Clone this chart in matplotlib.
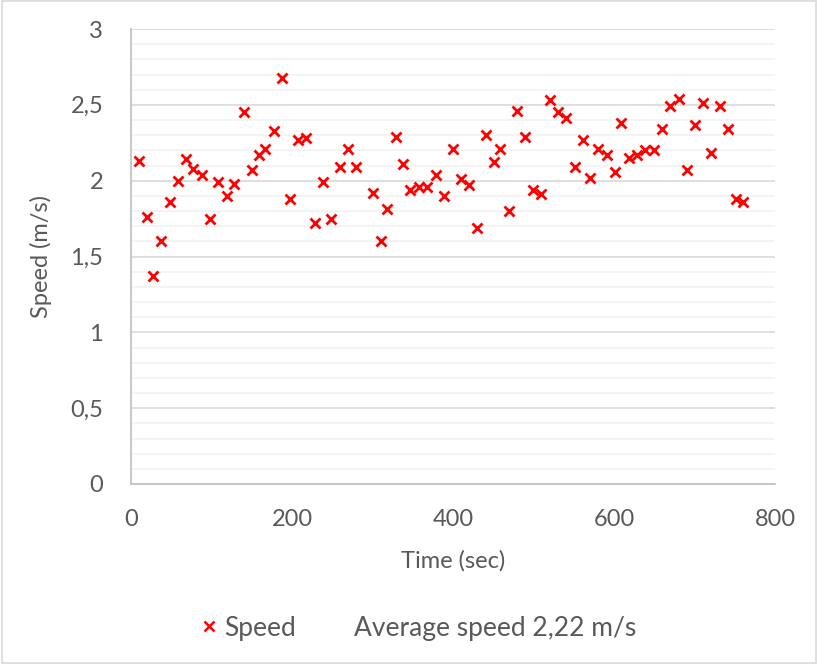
import matplotlib.pyplot as plt
from matplotlib.lines import Line2D
from matplotlib.patches import Rectangle
from matplotlib.ticker import MultipleLocator

# time stamps (sec) and measured speed (m/s)
time_s = [10, 20, 27, 37, 48, 58, 68, 77, 88, 98, 108, 119, 128, 140, 150,
          159, 167, 178, 188, 198, 207, 218, 229, 239, 249, 260, 270, 280,
          300, 310, 318, 329, 338, 347, 358, 368, 379, 389, 400, 410, 420,
          430, 441, 451, 459, 469, 479, 489, 499, 509, 520, 530, 540, 551,
          561, 570, 580, 591, 601, 609, 619, 629, 639, 650, 660, 670, 681,
          691, 701, 711, 721, 732, 742, 752, 760]
speed = [2.13, 1.76, 1.37, 1.60, 1.86, 2.00, 2.14, 2.08, 2.04, 1.75, 1.99,
         1.90, 1.98, 2.45, 2.07, 2.17, 2.21, 2.33, 2.68, 1.88, 2.27, 2.28,
         1.72, 1.99, 1.75, 2.09, 2.21, 2.09, 1.92, 1.60, 1.81, 2.29, 2.11,
         1.94, 1.96, 1.96, 2.04, 1.90, 2.21, 2.01, 1.97, 1.69, 2.30, 2.12,
         2.21, 1.80, 2.46, 2.29, 1.94, 1.91, 2.53, 2.45, 2.41, 2.09, 2.27,
         2.02, 2.21, 2.17, 2.06, 2.38, 2.15, 2.17, 2.20, 2.20, 2.34, 2.49,
         2.54, 2.07, 2.37, 2.51, 2.18, 2.49, 2.34, 1.88, 1.86]

x_ticks = [0, 200, 400, 600, 800]
y_ticks = [0, 0.5, 1, 1.5, 2, 2.5, 3]
y_labels = ['0', '0,5', '1', '1,5', '2', '2,5', '3']
avg_label = 'Average speed 2,22 m/s'

txt = '#595959'
fs = 17
plt.rcParams['font.family'] = ['Lato', 'DejaVu Sans']
plt.rcParams['font.size'] = fs

fig = plt.figure(figsize=(8.18, 6.64), dpi=100)
ax = fig.add_axes([131/818, 180/664, 644/818, 455/664])

ax.plot(time_s, speed, ls='none', marker='x', ms=7.5, mew=2, color='#ff0000')

ax.set_xlim(0, 800)
ax.set_ylim(0, 3)
ax.set_xticks(x_ticks)
ax.set_yticks(y_ticks)
ax.set_yticklabels(y_labels)
ax.yaxis.set_minor_locator(MultipleLocator(0.1))
ax.grid(which='minor', axis='y', color='#f2f2f2', lw=1.2)
ax.grid(which='major', axis='y', color='#d9d9d9', lw=1.2)
ax.set_axisbelow(True)
ax.tick_params(which='both', length=0, colors=txt, labelsize=fs)
ax.tick_params(axis='y', pad=20)
ax.tick_params(axis='x', pad=18)

for s in ['top', 'right']:
    ax.spines[s].set_visible(False)
for s in ['left', 'bottom']:
    ax.spines[s].set_color('#bfbfbf')
    ax.spines[s].set_linewidth(1.2)

ax.set_xlabel('Time (sec)', color=txt, fontsize=fs)
ax.set_ylabel('Speed (m/s)', color=txt, fontsize=fs)
ax.xaxis.set_label_coords(0.5, -0.145)
ax.yaxis.set_label_coords(-0.122, 0.5)

handles = [Line2D([], [], ls='none', marker='x', ms=7, mew=1.8, color='#ff0000'),
           Line2D([], [], ls='none')]
fig.legend(handles, ['Speed', avg_label], loc='center', bbox_to_anchor=(0.51, 0.054),
           ncol=2, frameon=False, fontsize=19, labelcolor=txt,
           handlelength=0.8, handletextpad=0.2, columnspacing=1.2)

fig.patches.append(Rectangle((0.002, 0.002), 0.996, 0.996, transform=fig.transFigure,
                             fill=False, edgecolor='#d9d9d9', lw=1.2))

fig.savefig('out.png', dpi=100)
